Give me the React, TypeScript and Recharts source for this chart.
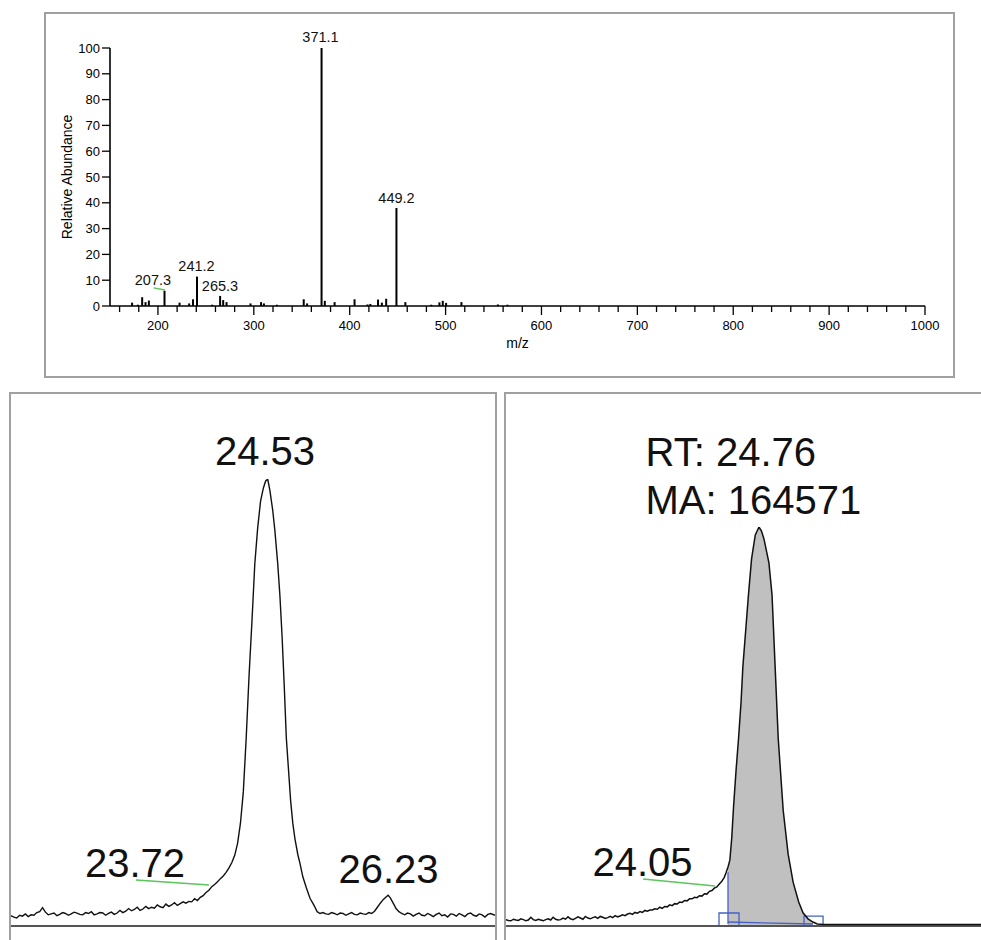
import React from 'react'
import {
  Area,
  Bar,
  ComposedChart,
  Line,
  ReferenceArea,
  ReferenceDot,
  ReferenceLine,
  XAxis,
  YAxis,
} from 'recharts'

const FONT = '"Liberation Sans", Arial, Helvetica, sans-serif'

// mass spectrum (m/z vs relative abundance)
const spectrumMz = [
  173.5, 179.5, 184, 187.5, 191, 207.3, 223, 233, 237, 241.2, 257, 265.3, 268.5, 272, 297, 308, 311,
  324.5, 352.5, 356, 371.1, 374.5, 384.7, 405.5, 419, 422, 430, 434, 438.5, 449.2, 458.5, 485.5, 494,
  497.5, 501, 517, 555, 565,
]
const spectrumAbundance = [
  1.3, 0.5, 3.4, 1.5, 2.1, 5.9, 1.3, 1.0, 2.6, 11.4, 0.5, 3.9, 2.3, 1.5, 1.0, 1.5, 1.0, 0.5, 2.6, 1.0,
  100, 2.0, 1.5, 2.6, 0.6, 0.8, 2.5, 1.3, 2.8, 38, 1.5, 0.5, 1.4, 2.0, 1.2, 1.5, 0.6, 0.5,
]
const mzTicks = [
  160, 180, 200, 220, 240, 260, 280, 300, 320, 340, 360, 380, 400, 420, 440, 460, 480, 500, 520, 540,
  560, 580, 600, 620, 640, 660, 680, 700, 720, 740, 760, 780, 800, 820, 840, 860, 880, 900, 920, 940,
  960, 980, 1000,
]
const abundanceTicks = [0, 10, 20, 30, 40, 50, 60, 70, 80, 90, 100]

// label anchors for the spectrum, in data units
const spectrumLabels = [
  { text: '371.1', mz: 369.5, ab: 102.3 },
  { text: '449.2', mz: 448.8, ab: 39.9 },
  { text: '241.2', mz: 240.2, ab: 13.6 },
  { text: '265.3', mz: 264.7, ab: 6.0 },
  { text: '207.3', mz: 194.8, ab: 8.1 },
]

// chromatogram, left panel (time in min, relative intensity)
const leftTrace: [number, number][] = [
  [20.95, 2.3], [20.99, 2.0], [21.03, 1.8], [21.07, 2.4], [21.11, 2.2], [21.15, 2.7], [21.19, 2.1],
  [21.23, 2.5], [21.27, 2.4], [21.31, 3.0], [21.35, 3.2], [21.39, 4.1], [21.43, 3.1], [21.47, 2.5],
  [21.51, 2.7], [21.55, 2.9], [21.59, 2.3], [21.63, 2.6], [21.67, 3.0], [21.71, 2.8], [21.75, 2.4],
  [21.79, 2.7], [21.83, 3.1], [21.87, 2.9], [21.91, 2.6], [21.95, 2.5], [21.99, 3.0], [22.03, 2.8],
  [22.07, 3.2], [22.11, 2.5], [22.15, 2.7], [22.19, 3.0], [22.23, 2.9], [22.27, 2.4], [22.31, 2.8],
  [22.35, 3.1], [22.39, 2.6], [22.43, 2.9], [22.47, 3.5], [22.51, 3.0], [22.55, 3.3], [22.59, 3.9],
  [22.63, 3.4], [22.67, 3.7], [22.71, 4.2], [22.75, 3.5], [22.79, 3.8], [22.83, 4.4], [22.87, 3.9],
  [22.91, 4.2], [22.95, 4.0], [22.99, 4.7], [23.03, 4.3], [23.07, 4.1], [23.11, 4.9], [23.15, 4.4],
  [23.19, 4.7], [23.23, 5.2], [23.27, 4.6], [23.31, 5.0], [23.35, 5.4], [23.39, 5.1], [23.43, 5.5],
  [23.47, 5.4], [23.51, 6.1], [23.55, 5.7], [23.59, 6.4], [23.63, 6.8], [23.67, 7.5], [23.71, 8.0],
  [23.75, 8.8], [23.79, 9.3], [23.83, 9.9], [23.87, 10.6], [23.91, 11.2], [23.95, 12.0], [23.99, 13.0],
  [24.03, 14.2], [24.07, 15.8], [24.11, 18.5], [24.15, 23], [24.19, 30], [24.23, 42], [24.27, 56],
  [24.31, 68], [24.35, 81], [24.39, 89], [24.43, 95], [24.47, 98], [24.5, 99.5], [24.53, 100],
  [24.56, 97.5], [24.6, 93], [24.63, 88.5], [24.67, 81], [24.7, 74], [24.73, 65], [24.76, 54],
  [24.79, 42], [24.82, 35], [24.85, 28], [24.88, 23], [24.91, 19.5], [24.95, 16], [24.98, 14],
  [25.02, 11], [25.07, 8.5], [25.12, 6.2], [25.18, 4.5], [25.22, 3.2], [25.26, 2.8], [25.3, 3.0],
  [25.34, 2.7], [25.38, 2.6], [25.42, 3.0], [25.46, 2.8], [25.5, 2.5], [25.54, 2.9], [25.58, 2.8],
  [25.62, 2.4], [25.66, 2.7], [25.7, 3.0], [25.74, 2.6], [25.78, 2.5], [25.82, 2.9], [25.86, 2.7],
  [25.9, 2.6], [25.94, 3.0], [25.98, 2.8], [26.02, 3.3], [26.06, 4.2], [26.1, 5.1], [26.14, 5.9],
  [26.18, 6.5], [26.21, 6.9], [26.24, 6.3], [26.28, 5.1], [26.32, 3.9], [26.36, 3.2], [26.4, 2.8],
  [26.44, 2.5], [26.48, 2.9], [26.52, 2.7], [26.56, 2.2], [26.6, 2.6], [26.64, 2.9], [26.68, 2.4],
  [26.72, 2.3], [26.76, 2.8], [26.8, 2.5], [26.84, 2.1], [26.88, 2.6], [26.92, 2.9], [26.96, 2.3],
  [27.0, 2.5], [27.04, 2.0], [27.08, 2.7], [27.12, 2.6], [27.16, 2.2], [27.2, 2.8], [27.24, 2.5],
  [27.28, 2.1], [27.32, 2.7], [27.36, 2.9], [27.4, 2.4], [27.44, 2.2], [27.48, 2.7], [27.52, 2.5],
  [27.56, 2.0], [27.6, 2.6], [27.64, 2.8], [27.7, 2.4],
]

// chromatogram, right panel
const rightTrace: [number, number][] = [
  [20.68, 1.6], [20.72, 1.4], [20.76, 1.3], [20.8, 1.7], [20.84, 1.5], [20.88, 1.4], [20.92, 1.8],
  [20.96, 1.6], [21.0, 1.3], [21.04, 1.5], [21.08, 2.2], [21.12, 1.6], [21.16, 1.4], [21.2, 1.7],
  [21.24, 1.5], [21.28, 1.3], [21.32, 1.6], [21.36, 1.8], [21.4, 1.5], [21.44, 2.2], [21.48, 1.7],
  [21.52, 1.5], [21.56, 1.6], [21.6, 2.0], [21.64, 1.7], [21.68, 2.3], [21.72, 1.8], [21.76, 1.6],
  [21.8, 1.9], [21.84, 2.3], [21.88, 2.0], [21.92, 1.7], [21.96, 2.4], [22.0, 2.0], [22.04, 1.8],
  [22.08, 2.1], [22.12, 2.3], [22.16, 1.9], [22.2, 2.4], [22.24, 2.2], [22.28, 1.9], [22.32, 2.1],
  [22.36, 2.4], [22.4, 2.1], [22.44, 2.6], [22.48, 2.3], [22.52, 2.5], [22.56, 2.8], [22.6, 2.6],
  [22.64, 3.0], [22.68, 3.2], [22.72, 2.9], [22.76, 3.4], [22.8, 3.2], [22.84, 3.6], [22.88, 3.4],
  [22.92, 3.9], [22.96, 3.7], [23.0, 4.0], [23.04, 4.0], [23.08, 4.3], [23.12, 4.2], [23.16, 4.7],
  [23.2, 4.4], [23.24, 4.9], [23.28, 4.8], [23.32, 5.3], [23.36, 5.1], [23.4, 5.6], [23.44, 5.5],
  [23.48, 6.0], [23.52, 5.9], [23.56, 6.4], [23.6, 6.3], [23.64, 6.8], [23.68, 6.8], [23.72, 7.2],
  [23.76, 7.1], [23.8, 7.6], [23.84, 7.5], [23.88, 8.1], [23.92, 8.0], [23.96, 8.7], [24.0, 8.9],
  [24.04, 9.5], [24.08, 9.8], [24.12, 10.5], [24.16, 11.2], [24.2, 12.2], [24.23, 13.4], [24.26, 14.8],
  [24.29, 16.5], [24.32, 22], [24.35, 30], [24.39, 39], [24.43, 47], [24.47, 56], [24.5, 65],
  [24.55, 75], [24.59, 83], [24.64, 92], [24.7, 98], [24.76, 100], [24.8, 99], [24.84, 97],
  [24.88, 94], [24.92, 91], [24.97, 83], [25.02, 65], [25.07, 47], [25.15, 29], [25.23, 18],
  [25.31, 11], [25.4, 6], [25.47, 3.3], [25.55, 1.8], [25.63, 1.0], [25.7, 0.5], [25.8, 0.35],
  [26.2, 0.4], [26.8, 0.35], [27.4, 0.4], [28.0, 0.35], [28.34, 0.4],
]
const shadeStart = 24.26
const shadeEnd = 25.63

const spectrum = spectrumMz.map((mz, i) => ({ mz, ab: spectrumAbundance[i] }))
const leftData = leftTrace.map(([t, I]) => ({ t, I }))
const rightData = rightTrace.map(([t, I]) => ({
  t,
  I,
  shade: t >= shadeStart && t <= shadeEnd ? I : null,
}))

function textAt(text: string, size: number, anchor: 'start' | 'middle' = 'middle') {
  return function TextLabel(props: any) {
    const vb = props.viewBox ?? {}
    const x = (vb.x ?? 0) + (vb.width ?? 0) / 2
    const y = (vb.y ?? 0) + (vb.height ?? 0) / 2
    return (
      <text x={x} y={y} textAnchor={anchor} fontSize={size} fontFamily={FONT} fill="#111">
        {text}
      </text>
    )
  }
}

const MzTick = (props: any) => {
  const { x, y, payload } = props
  const major = payload.value % 100 === 0
  return (
    <g>
      <line x1={x} y1={y} x2={x} y2={y + (major ? 9 : 6)} stroke="#000" strokeWidth={1.3} />
      {major && (
        <text x={x} y={y + 24} textAnchor="middle" fontSize={13} fontFamily={FONT} fill="#000">
          {payload.value}
        </text>
      )}
    </g>
  )
}

const YTitle = (props: any) => {
  const vb = props.viewBox
  const cx = vb.x + 21
  const cy = vb.y + vb.height / 2
  return (
    <text
      x={cx}
      y={cy}
      transform={`rotate(-90 ${cx} ${cy})`}
      textAnchor="middle"
      dominantBaseline="central"
      fontSize={14}
      fontFamily={FONT}
      fill="#000"
    >
      Relative Abundance
    </text>
  )
}

const box = (left: number, top: number, width: number, height: number): React.CSSProperties => ({
  position: 'absolute',
  left,
  top,
  width,
  height,
  border: '2px solid #a0a0a0',
  boxSizing: 'border-box',
})

const GREEN = '#5cc45c'
const BLUE = '#4661c6'

export default function App() {
  return (
    <div
      style={{
        position: 'absolute',
        left: 0,
        top: 0,
        width: 981,
        height: 940,
        overflow: 'hidden',
        background: '#fff',
        fontFamily: FONT,
      }}
    >
      <div style={box(44, 12, 911, 366)} />
      <div style={box(9, 392, 488, 600)} />
      <div style={box(504, 392, 490, 600)} />

      {/* mass spectrum */}
      <div style={{ position: 'absolute', left: 46, top: 12 }}>
        <ComposedChart
          width={908}
          height={364}
          data={spectrum}
          margin={{ top: 36, right: 29, bottom: 28, left: 0 }}
        >
          <XAxis
            type="number"
            dataKey="mz"
            domain={[150, 1000]}
            ticks={mzTicks}
            interval={0}
            tickSize={0}
            tickMargin={0}
            tickLine={false}
            tick={<MzTick />}
            axisLine={{ stroke: '#000', strokeWidth: 1.6 }}
            height={42}
            allowDataOverflow
            label={{ value: 'm/z', position: 'insideBottom', offset: 0, fontSize: 14, fill: '#000', fontFamily: FONT }}
          />
          <YAxis
            type="number"
            domain={[0, 100]}
            ticks={abundanceTicks}
            interval={0}
            width={64}
            tickSize={8}
            tickLine={{ stroke: '#000', strokeWidth: 1.3 }}
            axisLine={{ stroke: '#000', strokeWidth: 1.6 }}
            tick={{ fill: '#000', fontSize: 13, fontFamily: FONT }}
            allowDataOverflow
            label={YTitle}
          />
          <Bar dataKey="ab" fill="#000" barSize={2} isAnimationActive={false} />
          <ReferenceLine
            segment={[
              { x: 195.5, y: 7.0 },
              { x: 207.3, y: 6.2 },
            ]}
            stroke={GREEN}
            strokeWidth={1.3}
            ifOverflow="visible"
          />
          {spectrumLabels.map((l) => (
            <ReferenceDot
              key={l.text}
              x={l.mz}
              y={l.ab}
              r={0}
              fill="none"
              stroke="none"
              ifOverflow="visible"
              label={textAt(l.text, 14.5)}
            />
          ))}
        </ComposedChart>
      </div>

      {/* left chromatogram */}
      <div style={{ position: 'absolute', left: 10, top: 393 }}>
        <ComposedChart
          width={486}
          height={547}
          data={leftData}
          margin={{ top: 86, right: 1, bottom: 14, left: 1 }}
        >
          <XAxis type="number" dataKey="t" domain={[20.95, 27.7]} hide allowDataOverflow />
          <YAxis type="number" domain={[0, 100]} hide allowDataOverflow />
          <ReferenceLine y={0} stroke="#555" strokeWidth={2} ifOverflow="visible" />
          <ReferenceLine
            segment={[
              { x: 22.693, y: 10.29 },
              { x: 23.711, y: 9.17 },
            ]}
            stroke={GREEN}
            strokeWidth={1.5}
            ifOverflow="visible"
          />
          <Line
            type="linear"
            dataKey="I"
            stroke="#111"
            strokeWidth={1.4}
            dot={false}
            activeDot={false}
            isAnimationActive={false}
          />
          <ReferenceDot x={24.493} y={103.1} r={0} fill="none" stroke="none" ifOverflow="visible" label={textAt('24.53', 40)} />
          <ReferenceDot x={22.679} y={10.96} r={0} fill="none" stroke="none" ifOverflow="visible" label={textAt('23.72', 40)} />
          <ReferenceDot x={26.215} y={9.62} r={0} fill="none" stroke="none" ifOverflow="visible" label={textAt('26.23', 40)} />
        </ComposedChart>
      </div>

      {/* right chromatogram with integrated peak */}
      <div style={{ position: 'absolute', left: 505, top: 393 }}>
        <ComposedChart
          width={476}
          height={547}
          data={rightData}
          margin={{ top: 134, right: 0, bottom: 14, left: 1 }}
        >
          <XAxis type="number" dataKey="t" domain={[20.68, 28.34]} hide allowDataOverflow />
          <YAxis type="number" domain={[0, 100]} hide allowDataOverflow />
          <Area
            type="linear"
            dataKey="shade"
            fill="#c0c0c0"
            fillOpacity={1}
            stroke="none"
            baseValue={0}
            connectNulls={false}
            isAnimationActive={false}
          />
          <ReferenceLine y={0} stroke="#555" strokeWidth={2} ifOverflow="visible" />
          <ReferenceLine
            segment={[
              { x: 22.89, y: 11.78 },
              { x: 24.05, y: 10.03 },
            ]}
            stroke={GREEN}
            strokeWidth={1.5}
            ifOverflow="visible"
          />
          <ReferenceLine
            segment={[
              { x: 24.26, y: 1.0 },
              { x: 25.63, y: 0.5 },
            ]}
            stroke={BLUE}
            strokeWidth={1.3}
            ifOverflow="visible"
          />
          <ReferenceLine
            segment={[
              { x: 24.26, y: 0.5 },
              { x: 24.26, y: 13.5 },
            ]}
            stroke={BLUE}
            strokeWidth={1.3}
            ifOverflow="visible"
          />
          <ReferenceArea x1={24.115} x2={24.438} y1={0} y2={3.26} fill="none" fillOpacity={0} stroke={BLUE} strokeWidth={1.3} ifOverflow="visible" />
          <ReferenceArea x1={25.486} x2={25.793} y1={0} y2={2.5} fill="none" fillOpacity={0} stroke={BLUE} strokeWidth={1.3} ifOverflow="visible" />
          <Line
            type="linear"
            dataKey="I"
            stroke="#111"
            strokeWidth={1.5}
            dot={false}
            activeDot={false}
            isAnimationActive={false}
          />
          <ReferenceDot x={22.93} y={115.3} r={0} fill="none" stroke="none" ifOverflow="visible" label={textAt('RT: 24.76', 40, 'start')} />
          <ReferenceDot x={22.93} y={103.3} r={0} fill="none" stroke="none" ifOverflow="visible" label={textAt('MA: 164571', 40, 'start')} />
          <ReferenceDot x={22.882} y={12.53} r={0} fill="none" stroke="none" ifOverflow="visible" label={textAt('24.05', 40)} />
        </ComposedChart>
      </div>
    </div>
  )
}
